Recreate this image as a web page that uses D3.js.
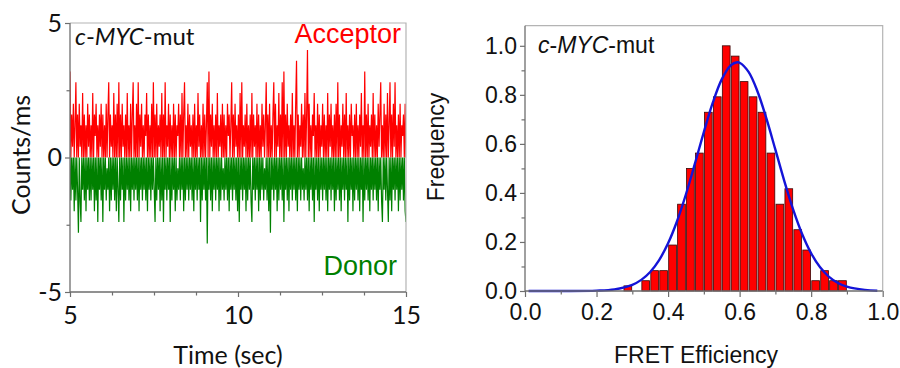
<!DOCTYPE html>
<html><head><meta charset="utf-8">
<script src="https://cdn.jsdelivr.net/npm/d3@7"></script>
<style>
html,body{margin:0;padding:0;background:#fff;}
svg{display:block;}
</style></head>
<body>
<svg id="chart" width="900" height="368"></svg>
<script>
// ---------- DATA ----------
// photon counts per 2.5 ms bin, plotted as counts/ms (n / 2.5); 400 samples from 5 s to 15 s
const traceStart = 5, traceEnd = 15, binMs = 2.5;
const acceptorCounts = [
8,0,4,1,5,0,3,7,0,4,0,5,1,3,0,6,0,4,0,3,
0,5,1,4,0,3,0,6,0,4,2,5,0,3,0,4,1,5,0,4,
0,3,0,5,0,4,7,0,4,1,3,0,6,0,4,0,5,0,7,0,
4,0,5,1,3,0,4,0,6,0,3,0,5,0,4,7,0,3,0,5,
0,7,0,4,1,5,0,3,0,4,2,6,0,4,0,3,0,5,0,7,
0,4,0,5,0,3,1,4,0,6,0,4,0,7,0,3,1,5,0,4,
0,3,0,5,0,4,0,3,2,5,0,4,0,6,0,4,7,0,3,0,
5,0,4,1,3,0,4,0,5,0,3,0,6,1,4,0,3,0,5,0,
4,0,3,7,0,8,0,4,1,5,0,3,0,4,0,6,0,3,1,4,
0,5,0,4,0,3,0,5,2,4,0,3,7,0,4,0,5,1,3,0,
4,0,6,0,7,0,3,1,4,0,5,0,3,0,4,0,6,0,4,1,
3,0,5,0,4,0,3,0,5,1,4,0,3,7,0,4,0,5,0,3,
0,4,7,0,5,0,3,1,6,0,4,0,7,0,8,0,4,0,5,1,
3,0,4,0,6,0,3,0,5,9,0,4,0,3,1,5,0,4,0,6,
0,4,10,0,5,0,3,0,4,2,6,0,3,0,5,0,4,0,3,1,
5,0,4,0,3,0,6,0,4,1,5,0,3,0,4,0,5,0,7,0,
4,0,3,1,5,0,4,0,6,0,3,0,4,0,5,2,3,0,4,0,
5,0,3,0,4,1,6,0,3,0,8,0,4,0,5,0,3,1,4,0,
6,0,4,0,3,0,5,1,4,7,0,3,0,5,0,4,0,6,0,3,
7,0,4,0,5,1,7,0,3,0,4,0,5,0,3,2,4,0,5,0];
const donorCounts = [
0,4,0,3,0,5,0,4,0,3,7,0,4,6,0,3,0,4,0,5,
0,3,0,4,0,4,0,3,0,5,0,4,0,6,0,3,0,4,0,6,
0,3,0,4,1,3,0,5,0,4,0,3,0,4,0,5,0,3,6,0,
4,0,3,0,6,0,4,0,3,0,4,0,5,0,3,0,4,0,3,0,
4,0,5,0,3,0,4,0,3,0,4,0,5,0,3,0,4,0,3,0,
3,6,0,4,0,3,0,5,0,4,0,6,0,3,0,4,0,3,0,6,
0,4,0,3,0,5,0,4,1,3,0,4,0,3,0,5,0,4,0,3,
0,4,0,3,0,4,0,5,0,3,0,4,0,3,0,6,0,4,0,3,
0,4,0,8,0,3,0,4,0,5,0,3,0,4,0,3,0,5,0,4,
0,3,1,4,0,3,0,4,0,5,0,3,0,4,0,3,0,4,0,5,
0,6,0,3,0,4,0,3,0,5,0,4,0,3,0,4,6,0,3,0,
4,0,3,0,5,0,4,0,3,0,4,1,3,0,4,0,5,0,7,0,
3,0,4,0,3,0,5,0,4,0,3,0,4,0,6,0,3,0,4,0,
5,0,3,0,4,0,3,0,4,0,5,0,3,0,4,0,3,1,4,0,
3,0,4,0,5,0,3,0,4,0,6,0,3,0,4,0,5,0,3,0,
4,0,3,0,4,0,5,0,3,0,4,0,3,0,5,0,4,0,3,0,
4,0,5,0,3,0,4,0,3,0,6,0,4,0,3,0,5,0,4,0,
3,0,4,0,5,0,3,0,6,0,4,0,3,0,4,0,5,0,3,0,
4,0,3,0,4,0,5,0,3,0,4,6,0,3,0,4,0,3,6,0,
4,0,5,0,3,0,4,0,3,0,5,0,4,0,3,0,4,0,5,6];

const traceXTicks = [5, 10, 15];
const traceXMinor = [6.25, 7.5, 8.75, 11.25, 12.5, 13.75];
const traceYTicks = [-5, 0, 5];
const traceYMinor = [-2.5, 2.5];

// histogram (bin left edges, bin width 0.025) and normalized frequency
const histBinWidth = 0.025;
const histBinStart = [0.275,0.325,0.35,0.375,0.4,0.425,0.45,0.475,0.5,0.525,0.55,0.575,0.6,0.625,0.65,0.675,0.7,0.725,0.75,0.775,0.8,0.825,0.85,0.875];
const histFreq =     [0.021,0.042,0.083,0.083,0.1875,0.354,0.5,0.5625,0.729,0.792,1.0,0.958,0.854,0.792,0.729,0.5625,0.354,0.417,0.25,0.167,0.042,0.083,0.042,0.042];

// Gaussian fit curve
const fitX = [0.01,0.1,0.2,0.25,0.3,0.325,0.35,0.375,0.4,0.425,0.45,0.475,0.5,0.525,0.55,0.575,0.593,0.6,0.625,0.65,0.675,0.7,0.725,0.75,0.775,0.8,0.825,0.85,0.875,0.9,0.95,0.985];
const fitY = [0.0,0.0,0.0014,0.0066,0.0252,0.0454,0.0777,0.1263,0.1945,0.2845,0.3946,0.5192,0.6483,0.7681,0.8631,0.9204,0.933,0.9309,0.8936,0.8138,0.703,0.5763,0.4481,0.3307,0.2315,0.1537,0.0968,0.0579,0.0328,0.0177,0.0044,0.0012];

const histXTicks = [0,0.2,0.4,0.6,0.8,1.0];
const histXMinor = [0.1,0.3,0.5,0.7,0.9];
const histYTicks = [0,0.2,0.4,0.6,0.8,1.0];
const histYMinor = [0.1,0.3,0.5,0.7,0.9];

// ---------- DRAW ----------
const svg = d3.select("#chart");
const sans = "'Liberation Sans', Arial, sans-serif";
const cal = "Lato, 'Open Sans', sans-serif";
const axisDark = "#6e6e6e", frameLight = "#b4b4b4";

// ===== Left panel =====
const L = {x0:70, x1:406, y0:23, y1:292};
const xT = d3.scaleLinear().domain([traceStart, traceEnd]).range([L.x0, L.x1]);
const yT = d3.scaleLinear().domain([-5, 5]).range([L.y1, L.y0]);
const nA = acceptorCounts.length;
const tAt = i => traceStart + i * (traceEnd - traceStart) / (nA - 1);

svg.append("clipPath").attr("id","clipL").append("rect")
  .attr("x",L.x0).attr("y",L.y0).attr("width",L.x1-L.x0).attr("height",L.y1-L.y0);

const gL = svg.append("g").attr("clip-path","url(#clipL)");
const lineA = d3.line().x((d,i)=>xT(tAt(i))).y(d=>yT(d/binMs));
const lineD = d3.line().x((d,i)=>xT(tAt(i))).y(d=>yT(-d/binMs));
gL.append("path").datum(acceptorCounts).attr("d",lineA)
  .attr("fill","none").attr("stroke","#ff0000").attr("stroke-width",1.2).attr("stroke-linejoin","bevel");
gL.append("path").datum(donorCounts).attr("d",lineD)
  .attr("fill","none").attr("stroke","#008000").attr("stroke-width",1.2).attr("stroke-linejoin","bevel");

// frame
svg.append("path").attr("d",`M${L.x0},${L.y0}H${L.x1}V${L.y1}`)
  .attr("fill","none").attr("stroke",frameLight).attr("stroke-width",1.2);

function styleAxis(g, font, size){
  g.select(".domain").remove();
  g.selectAll(".tick line").attr("stroke",axisDark).attr("stroke-width",1.2);
  g.selectAll(".tick text").attr("fill","#111").style("font-family",font).style("font-size",size+"px");
}
const axLx = svg.append("g").attr("transform",`translate(0,${L.y1})`)
  .call(d3.axisBottom(xT).tickValues(traceXTicks).tickSize(5).tickPadding(9).tickFormat(d=>String(d)));
styleAxis(axLx, cal, 25);
svg.append("g").attr("transform",`translate(0,${L.y1})`)
  .call(d3.axisBottom(xT).tickValues(traceXMinor).tickSize(3.5).tickFormat(""))
  .call(g=>{g.select(".domain").remove(); g.selectAll("line").attr("stroke",axisDark).attr("stroke-width",1.2);});
const axLy = svg.append("g").attr("transform",`translate(${L.x0},0)`)
  .call(d3.axisLeft(yT).tickValues(traceYTicks).tickSize(5).tickPadding(3).tickFormat(d=>String(d)));
styleAxis(axLy, cal, 25);
svg.append("g").attr("transform",`translate(${L.x0},0)`)
  .call(d3.axisLeft(yT).tickValues(traceYMinor).tickSize(3.5).tickFormat(""))
  .call(g=>{g.select(".domain").remove(); g.selectAll("line").attr("stroke",axisDark).attr("stroke-width",1.2);});
svg.append("path").attr("d",`M${L.x0},${L.y0}V${L.y1}H${L.x1}`)
  .attr("fill","none").attr("stroke",axisDark).attr("stroke-width",1.3);

svg.append("text").attr("x",228).attr("y",364).attr("text-anchor","middle")
  .style("font-family",cal).style("font-size","25px").attr("fill","#111").text("Time (sec)");
svg.append("text").attr("transform",`translate(30,155) rotate(-90)`).attr("text-anchor","middle")
  .style("font-family",cal).style("font-size","25px").attr("fill","#111").text("Counts/ms");

const tl = svg.append("text").attr("x",75).attr("y",45)
  .style("font-family",cal).style("font-size","24px").attr("fill","#111");
tl.append("tspan").style("font-style","italic").text("c");
tl.append("tspan").text("-");
tl.append("tspan").style("font-style","italic").text("MYC");
tl.append("tspan").text("-mut");

svg.append("text").attr("x",401).attr("y",43).attr("text-anchor","end")
  .style("font-family",sans).style("font-size","27px").attr("fill","#ff0000").text("Acceptor");
svg.append("text").attr("x",397).attr("y",275).attr("text-anchor","end")
  .style("font-family",sans).style("font-size","27px").attr("fill","#008000").text("Donor");

// ===== Right panel =====
const R = {x0:525, x1:882.7, y0:25.7, y1:291};
const xH = d3.scaleLinear().domain([0,1]).range([R.x0,R.x1]);
const yH = d3.scaleLinear().domain([0,1.082]).range([R.y1,R.y0]);

svg.append("path").attr("d",`M${R.x0},${R.y0}H${R.x1}V${R.y1}`)
  .attr("fill","none").attr("stroke",frameLight).attr("stroke-width",1.2);

svg.append("g").selectAll("rect").data(histBinStart).join("rect")
  .attr("x",d=>xH(d)+0.6)
  .attr("width",d=>xH(d+histBinWidth)-xH(d)-1.2)
  .attr("y",(d,i)=>yH(histFreq[i]))
  .attr("height",(d,i)=>yH(0)-yH(histFreq[i]))
  .attr("fill","#ff0000").attr("stroke","#3a0808").attr("stroke-width",0.8);

svg.append("path").datum(fitX.map((x,i)=>[x,fitY[i]]))
  .attr("d",d3.line().x(d=>xH(d[0])).y(d=>yH(d[1])).curve(d3.curveCatmullRom.alpha(0.5)))
  .attr("fill","none").attr("stroke","#1414d8").attr("stroke-width",2.4);

const fmt = d3.format(".1f");
const axRx = svg.append("g").attr("transform",`translate(0,${R.y1})`)
  .call(d3.axisBottom(xH).tickValues(histXTicks).tickSize(6).tickPadding(7).tickFormat(fmt));
styleAxis(axRx, sans, 23);
svg.append("g").attr("transform",`translate(0,${R.y1})`)
  .call(d3.axisBottom(xH).tickValues(histXMinor).tickSize(3.5).tickFormat(""))
  .call(g=>{g.select(".domain").remove(); g.selectAll("line").attr("stroke",axisDark).attr("stroke-width",1.2);});
const axRy = svg.append("g").attr("transform",`translate(${R.x0},0)`)
  .call(d3.axisLeft(yH).tickValues(histYTicks).tickSize(5).tickPadding(3).tickFormat(fmt));
styleAxis(axRy, sans, 23);
svg.append("g").attr("transform",`translate(${R.x0},0)`)
  .call(d3.axisLeft(yH).tickValues(histYMinor).tickSize(3.5).tickFormat(""))
  .call(g=>{g.select(".domain").remove(); g.selectAll("line").attr("stroke",axisDark).attr("stroke-width",1.2);});
svg.append("path").attr("d",`M${R.x0},${R.y0}V${R.y1}H${R.x1}`)
  .attr("fill","none").attr("stroke",axisDark).attr("stroke-width",1.3);

svg.append("text").attr("x",696).attr("y",363).attr("text-anchor","middle")
  .style("font-family",sans).style("font-size","23px").attr("fill","#111").text("FRET Efficiency");
svg.append("text").attr("transform",`translate(444,147) rotate(-90)`).attr("text-anchor","middle")
  .style("font-family",sans).style("font-size","23px").attr("fill","#111").text("Frequency");

const tr = svg.append("text").attr("x",538).attr("y",53)
  .style("font-family",sans).style("font-size","23px").attr("fill","#111");
tr.append("tspan").style("font-style","italic").text("c");
tr.append("tspan").text("-");
tr.append("tspan").style("font-style","italic").text("MYC");
tr.append("tspan").text("-mut");
</script>
</body></html>
